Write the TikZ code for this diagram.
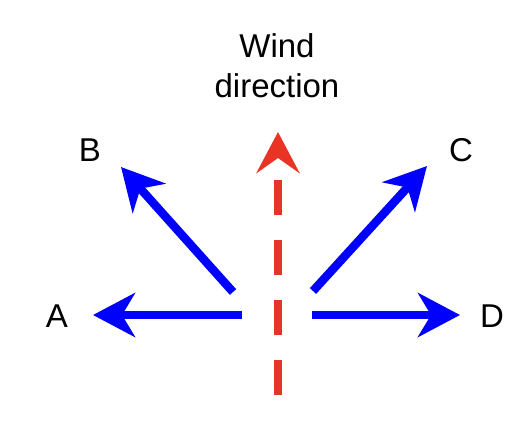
\documentclass[tikz,border=0pt]{standalone}
\usepackage{fontspec}
\setmainfont{Liberation Sans}
\usepackage{tikz}
\usetikzlibrary{arrows.meta}
\definecolor{windred}{RGB}{233,51,37}
\tikzset{
every node/.style={font=\fontsize{33}{40}\selectfont, inner sep=0pt}, % labels
move/.style={draw=blue, line width=8.5pt, -{Stealth[length=42pt, width=44pt, inset=13pt]}}, % blue arrows
wind/.style={draw=windred, line width=8.5pt, dash pattern=on 35pt off 25pt, -{Stealth[length=41pt, width=43pt, inset=15pt]}}, % dashed red arrow
}

\begin{document}
\begin{tikzpicture}[x=1pt, y=-1pt]
		\useasboundingbox (0,0) rectangle (530,440);
		\node[align=center] (wind) at (277,66) {Wind\\direction};
		\node (A) at (57,316) {A};
		\node (B) at (90,150) {B};
		\node (C) at (461,150) {C};
		\node (D) at (492,316) {D};
		\coordinate (w0) at (278,395);
		\coordinate (w1) at (278,132);
		\coordinate (a0) at (242,315);
		\coordinate (a1) at (93,315);
		\coordinate (b0) at (233,292);
		\coordinate (b1) at (121,167);
		\coordinate (c0) at (313,291);
		\coordinate (c1) at (427,166);
		\coordinate (d0) at (312,315);
		\coordinate (d1) at (460,315);
		\draw[wind] (w0) -- (w1);
		\draw[move] (a0) -- (a1);
		\draw[move] (b0) -- (b1);
		\draw[move] (c0) -- (c1);
		\draw[move] (d0) -- (d1);
	\end{tikzpicture}
\end{document}
